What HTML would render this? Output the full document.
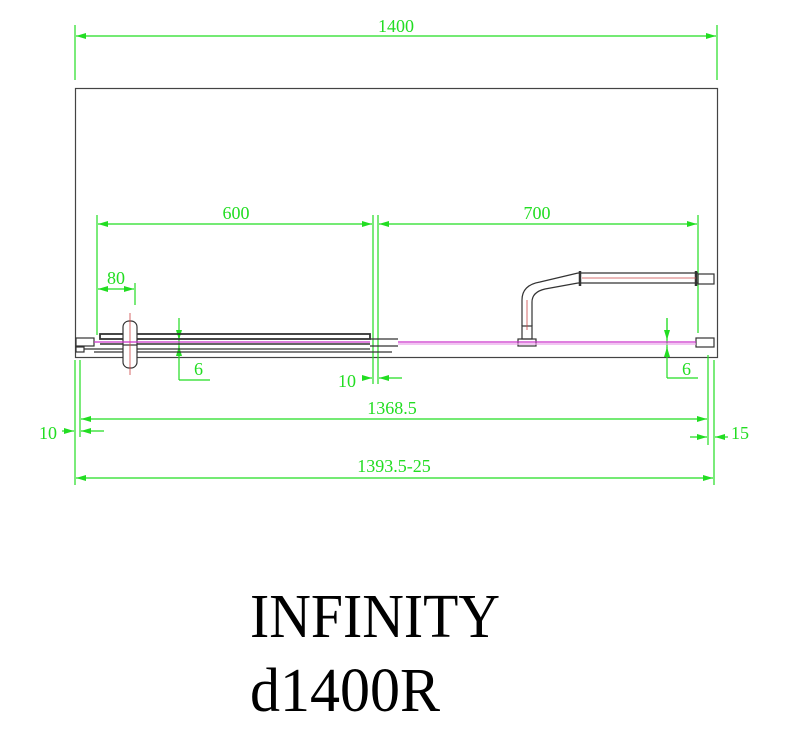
<!DOCTYPE html>
<html><head><style>body{margin:0;background:#fff}svg{display:block}</style></head><body>
<svg width="800" height="735" viewBox="0 0 800 735" xmlns="http://www.w3.org/2000/svg" font-family="Liberation Serif, serif">
<defs>
<marker id="a" viewBox="0 0 10 6" refX="10" refY="3" markerWidth="10" markerHeight="6" orient="auto-start-reverse" markerUnits="userSpaceOnUse"><path d="M0,0L10,3L0,6z" fill="#22dd22"/></marker>
</defs>
<rect x="75.5" y="88.5" width="642" height="269" fill="none" stroke="#444" stroke-width="1.2"/>
<g stroke="#22dd22" stroke-width="1.2" fill="none">
<line x1="75" y1="25" x2="75" y2="80"/><line x1="717" y1="25" x2="717" y2="80"/>
<line x1="76" y1="36" x2="716" y2="36" marker-start="url(#a)" marker-end="url(#a)"/>
<line x1="97" y1="215" x2="97" y2="335"/>
<line x1="373" y1="215" x2="373" y2="384"/><line x1="378" y1="215" x2="378" y2="384"/>
<line x1="698" y1="215" x2="698" y2="333"/>
<line x1="98" y1="224" x2="372" y2="224" marker-start="url(#a)" marker-end="url(#a)"/>
<line x1="379" y1="224" x2="697" y2="224" marker-start="url(#a)" marker-end="url(#a)"/>
<line x1="135" y1="283" x2="135" y2="305"/>
<line x1="98" y1="289" x2="134" y2="289" marker-start="url(#a)" marker-end="url(#a)"/>
<line x1="179" y1="318" x2="179" y2="380"/><line x1="179" y1="380" x2="210" y2="380"/>
<line x1="179" y1="330" x2="179" y2="340" marker-end="url(#a)"/><line x1="179" y1="358" x2="179" y2="346" marker-end="url(#a)"/>
<line x1="667" y1="318" x2="667" y2="378"/><line x1="667" y1="378" x2="698" y2="378"/>
<line x1="667" y1="318" x2="667" y2="340" marker-end="url(#a)"/><line x1="667" y1="358" x2="667" y2="347" marker-end="url(#a)"/>
<line x1="363" y1="378" x2="372" y2="378" marker-end="url(#a)"/><line x1="402" y1="378" x2="379" y2="378" marker-end="url(#a)"/>
<line x1="75" y1="360" x2="75" y2="485"/><line x1="80" y1="360" x2="80" y2="437"/>
<line x1="708" y1="355" x2="708" y2="445"/><line x1="714" y1="360" x2="714" y2="485"/>
<line x1="81" y1="419" x2="707" y2="419" marker-start="url(#a)" marker-end="url(#a)"/>
<line x1="62" y1="431" x2="74" y2="431" marker-end="url(#a)"/><line x1="104" y1="431" x2="81" y2="431" marker-end="url(#a)"/>
<line x1="690" y1="437" x2="707" y2="437" marker-end="url(#a)"/><line x1="728" y1="437" x2="715" y2="437" marker-end="url(#a)"/>
<line x1="76" y1="478" x2="713" y2="478" marker-start="url(#a)" marker-end="url(#a)"/>
</g>
<g fill="#22dd22" font-size="18">
<text x="396" y="32" text-anchor="middle">1400</text>
<text x="236" y="219" text-anchor="middle">600</text>
<text x="537" y="219" text-anchor="middle">700</text>
<text x="116" y="284" text-anchor="middle">80</text>
<text x="194" y="375">6</text>
<text x="682" y="375">6</text>
<text x="338" y="387">10</text>
<text x="392" y="414" text-anchor="middle">1368.5</text>
<text x="39" y="439">10</text>
<text x="731" y="439">15</text>
<text x="394" y="472" text-anchor="middle">1393.5-25</text>
</g>
<g stroke="#333" fill="none" stroke-width="1.2">
<rect x="76" y="338" width="18" height="8"/><rect x="76" y="347" width="8" height="5"/>
<line x1="94" y1="352" x2="392" y2="352"/>
<line x1="84" y1="349" x2="370" y2="349"/>
<rect x="100" y="334" width="270" height="5" stroke-width="1.8"/>
<line x1="100" y1="344" x2="370" y2="344" stroke-width="1.5"/>
<line x1="370" y1="339" x2="398" y2="339"/><line x1="370" y1="346" x2="398" y2="346"/>
<rect x="123" y="321" width="14" height="47" rx="6" fill="#fff"/>
<line x1="123" y1="345" x2="137" y2="345"/>
<rect x="518" y="339" width="18" height="7"/>
<rect x="522" y="326" width="10" height="13"/>
<path d="M522,326 V300 Q522,285 540,282 L578,273 M532,326 V302 Q532,292 545,289 L578,283"/>
<line x1="578" y1="273" x2="698" y2="273"/><line x1="578" y1="283" x2="698" y2="283"/>
<line x1="580" y1="271" x2="580" y2="286" stroke-width="2.5"/>
<line x1="696" y1="271" x2="696" y2="286" stroke-width="2.5"/>
<rect x="698" y="274" width="16" height="10"/>
<rect x="696" y="338" width="18" height="9"/>
</g>
<g stroke="#c44" stroke-width="0.8" fill="none">
<line x1="130" y1="313" x2="130" y2="375"/>
<line x1="527" y1="330" x2="527" y2="300"/><line x1="582" y1="278" x2="696" y2="278"/>
</g>
<g stroke="#cc33cc" stroke-width="1.2">
<line x1="94" y1="342" x2="370" y2="342"/>
<line x1="398" y1="342" x2="696" y2="342"/>
<line x1="398" y1="344" x2="696" y2="344" stroke="#e9a0e9"/>
</g>
<g font-family="Liberation Serif, serif" fill="#000">
<text x="250" y="637" font-size="62" textLength="250" lengthAdjust="spacingAndGlyphs">INFINITY</text>
<text x="250" y="711" font-size="62" textLength="190" lengthAdjust="spacingAndGlyphs">d1400R</text>
</g>
</svg>
</body></html>
